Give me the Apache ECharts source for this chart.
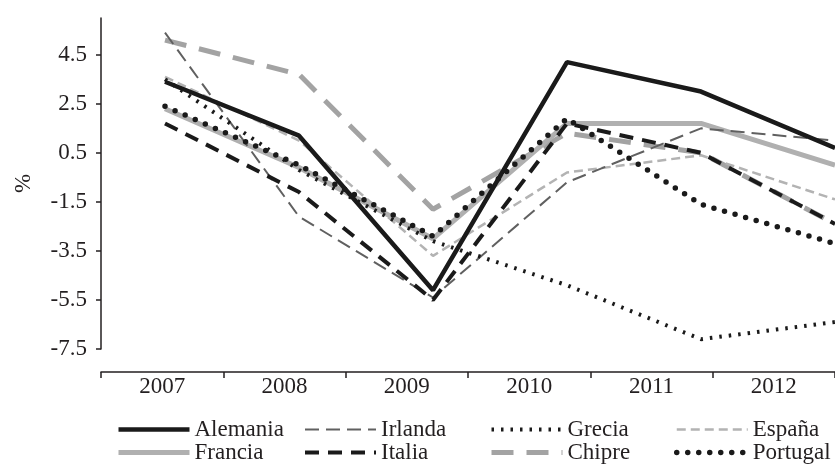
<!DOCTYPE html>
<html>
<head>
<meta charset="utf-8">
<script src="https://cdn.jsdelivr.net/npm/echarts@6/dist/echarts.min.js"></script>
<style>
  html, body { margin: 0; padding: 0; background: #fff; }
  #chart { width: 835px; height: 470px; }
</style>
</head>
<body>
<div id="chart"></div>
<script>
// datos (%)
var years = ['2007', '2008', '2009', '2010', '2011', '2012'];
var yTicks = [-7.5, -5.5, -3.5, -1.5, 0.5, 2.5, 4.5];

var alemania = [3.4, 1.2, -5.1, 4.2, 3.0, 0.7];
var irlanda  = [5.4, -2.1, -5.4, -0.7, 1.5, 1.0];
var grecia   = [3.5, -0.2, -3.1, -4.9, -7.1, -6.4];
var espana   = [3.6, 1.0, -3.7, -0.3, 0.4, -1.4];
var francia  = [2.3, -0.1, -3.0, 1.7, 1.7, 0.0];
var italia   = [1.7, -1.1, -5.5, 1.7, 0.5, -2.4];
var chipre   = [5.1, 3.7, -1.8, 1.3, 0.5, -2.4];
var portugal = [2.4, 0.0, -2.9, 1.9, -1.6, -3.2];

var font = 'Liberation Serif';
var ink = '#231f20';

function serie(name, data, color, width, dash, cap) {
  return {
    name: name,
    type: 'line',
    xAxisIndex: 1,
    yAxisIndex: 1,
    data: data,
    symbol: 'none',
    animation: false,
    lineStyle: { color: color, width: width, type: dash, cap: cap || 'butt' },
    itemStyle: { color: color }
  };
}

function leyenda(left, names) {
  return {
    orient: 'vertical',
    left: left,
    top: 418,
    itemWidth: 71,
    itemHeight: 14,
    itemGap: 0,
    padding: 0,
    data: names,
    selectedMode: false,
    // sólo la línea, sin el símbolo
    itemStyle: { color: 'transparent', borderColor: 'transparent', borderWidth: 0, opacity: 0 },
    lineStyle: { width: 'inherit' },
    textStyle: { fontFamily: font, fontSize: 23, color: ink, lineHeight: 23 }
  };
}

var chart = echarts.init(document.getElementById('chart'));

var option = {
  backgroundColor: '#fff',
  animation: false,
  grid: [
    { left: 101, top: 18, height: 331, width: 740 },
    { left: 165, top: 18, height: 331, right: 0 }
  ],
  xAxis: [
    {
      type: 'category',
      gridIndex: 0,
      data: years,
      offset: 23,
      axisLine: { onZero: false, lineStyle: { color: ink, width: 1.5 } },
      axisTick: { show: true, length: 6, lineStyle: { color: ink, width: 1.5 } },
      axisLabel: { fontFamily: font, fontSize: 23, color: ink, margin: 3 }
    },
    {
      type: 'category',
      gridIndex: 1,
      data: years,
      boundaryGap: false,
      show: false
    }
  ],
  yAxis: [
    {
      type: 'value',
      gridIndex: 0,
      min: -7.5,
      max: 6,
      name: '%',
      nameLocation: 'middle',
      nameGap: 66,
      nameTextStyle: { fontFamily: font, fontSize: 23, color: ink },
      axisLine: { show: true, lineStyle: { color: ink, width: 1.5 } },
      axisTick: { show: true, length: 5, customValues: yTicks, lineStyle: { color: ink, width: 1.5 } },
      axisLabel: { fontFamily: font, fontSize: 23, color: ink, margin: 14, customValues: yTicks },
      splitLine: { show: false }
    },
    {
      type: 'value',
      gridIndex: 1,
      min: -7.5,
      max: 6,
      show: false,
      splitLine: { show: false }
    }
  ],
  legend: [
    leyenda(116, ['Alemania', 'Francia']),
    leyenda(303, ['Irlanda', 'Italia']),
    leyenda(489, ['Grecia', 'Chipre']),
    leyenda(674, ['España', 'Portugal'])
  ],
  series: [
    serie('Chipre', chipre, '#a3a3a3', 5, [22, 13]),
    serie('Francia', francia, '#b0b0b0', 5),
    serie('España', espana, '#b3b3b3', 2.5, [9, 5]),
    serie('Irlanda', irlanda, '#606060', 2, [14, 7]),
    serie('Grecia', grecia, '#1a1a1a', 4, [2.5, 7]),
    serie('Italia', italia, '#1a1a1a', 4, [14, 9]),
    serie('Portugal', portugal, '#1a1a1a', 5.5, [0, 11], 'round'),
    serie('Alemania', alemania, '#1a1a1a', 4.5)
  ]
};

chart.setOption(option);
</script>
</body>
</html>
